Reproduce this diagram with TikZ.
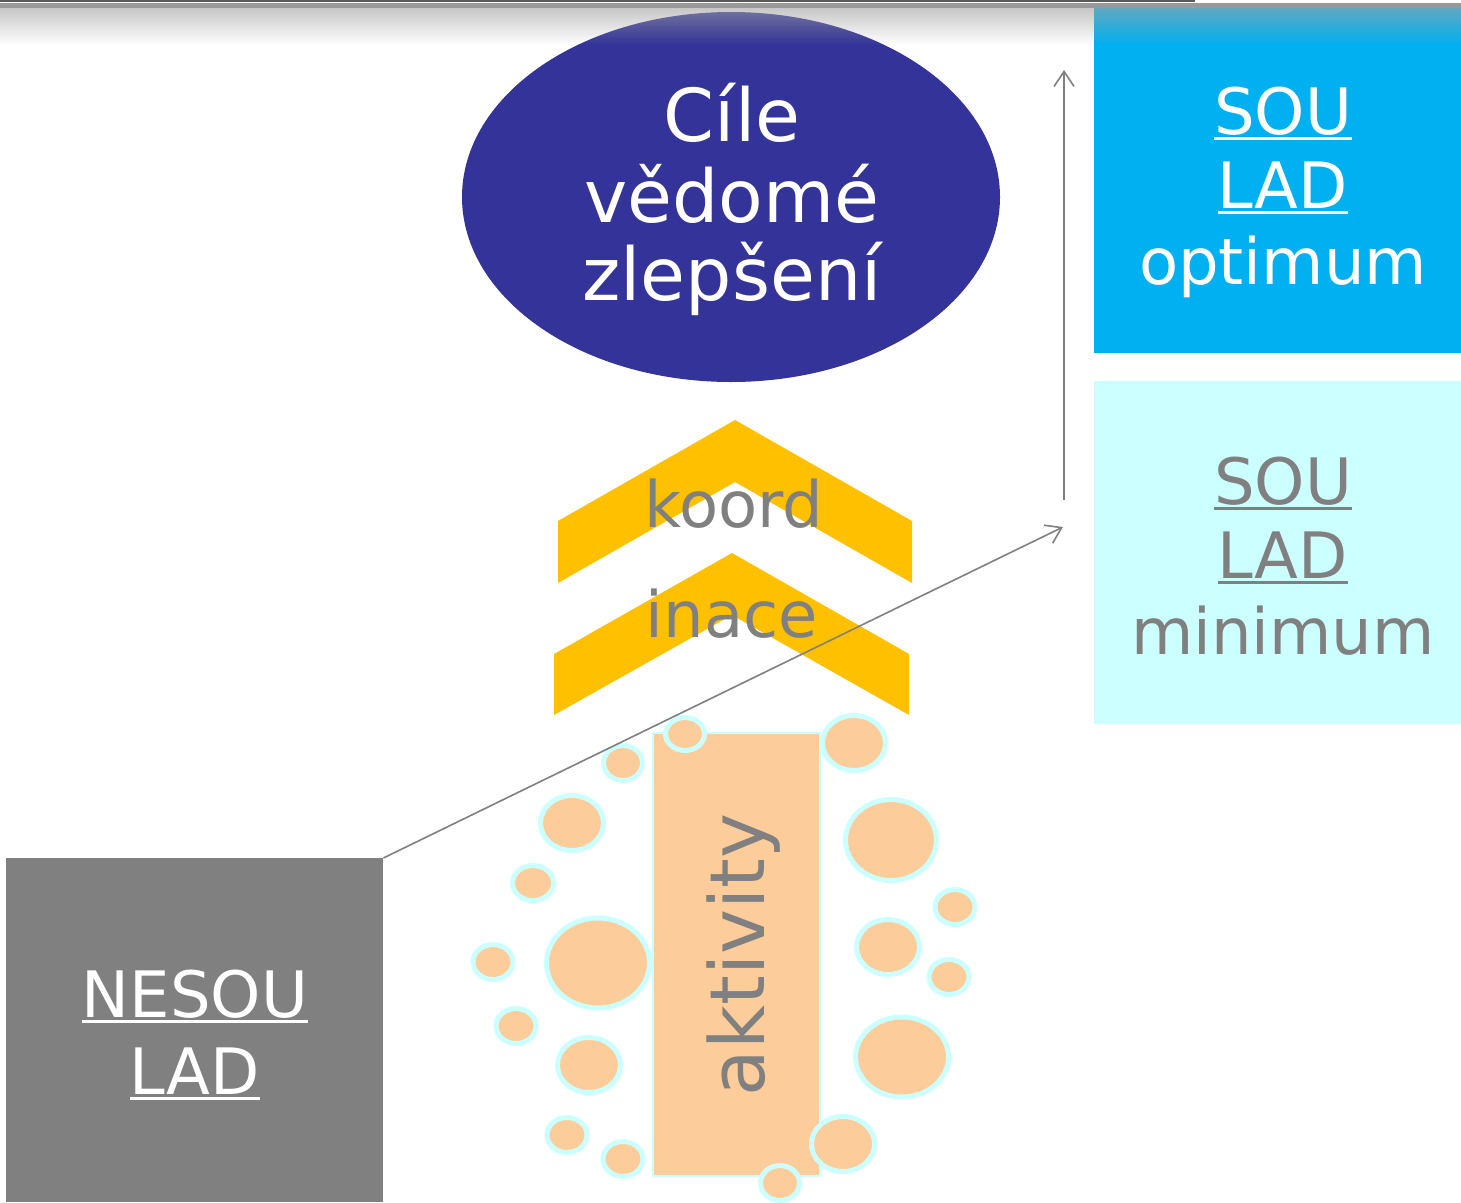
\documentclass[tikz,border=0pt]{standalone}
\usepackage{fontspec}
\setmainfont{DejaVu Sans}
\usetikzlibrary{shapes.geometric,arrows.meta}
\definecolor{ellblue}{HTML}{333399}
\definecolor{boxblue}{HTML}{00B0F0}
\definecolor{boxcyan}{HTML}{CCFFFF}
\definecolor{boxgray}{HTML}{808080}
\definecolor{txtgray}{HTML}{808080}
\definecolor{chevron}{HTML}{FFC000}
\definecolor{peach}{HTML}{FCCC9A}
\definecolor{ring}{HTML}{CCFFFF}
\definecolor{shadowgray}{HTML}{A3A3A3}
\definecolor{topdark}{HTML}{595959}
\definecolor{topband}{HTML}{999999}
\newcommand\ulword[1]{\setbox0\hbox{#1}\leavevmode\rlap{\rule[-6pt]{\wd0}{3pt}}\box0}
\tikzset{
  txt/.style={inner sep=0pt, anchor=base},
  bigtxt/.style={txt, font=\fontsize{73}{80}\selectfont},
  midtxt/.style={txt, font=\fontsize{64}{75}\selectfont},
  bubble/.style={fill=peach, draw=ring, line width=5pt},
  conn/.style={draw=txtgray, line width=1.6pt, -{Straight Barb[length=15pt,width=20pt,line width=1.6pt]}},
  chev/.style={fill=chevron}
}
\begin{document}
\begin{tikzpicture}[x=1pt,y=-1pt]
\useasboundingbox (0,0) rectangle (1461,1202);
\fill[white] (0,0) rectangle (1461,1202);
% top decoration
\fill[topdark] (0,0) rectangle (1195,1.5);
\fill[topband] (0,3.3) rectangle (1461,8.3);

% ellipse
\node[ellipse, fill=ellblue, inner sep=0pt, minimum width=538pt, minimum height=370pt] (goal) at (731,197) {};
\node[bigtxt, white] (g1) at (732,141) {Cíle};
\node[bigtxt, white] (g2) at (732,222) {vědomé};
\node[bigtxt, white] (g3) at (732,300) {zlepšení};

% right boxes
\node[rectangle, fill=boxblue, inner sep=0pt, minimum width=367pt, minimum height=345pt, anchor=north west] (opt) at (1094,8) {};
\node[midtxt, white] (o1) at (1283,134) {\ulword{SOU}};
\node[midtxt, white] (o2) at (1283,208) {\ulword{LAD}};
\node[midtxt, white] (o3) at (1283,284) {optimum};

\node[rectangle, fill=boxcyan, inner sep=0pt, minimum width=367pt, minimum height=343pt, anchor=north west] (min) at (1094,381) {};
\node[midtxt, txtgray] (m1) at (1283,504) {\ulword{SOU}};
\node[midtxt, txtgray] (m2) at (1283,578) {\ulword{LAD}};
\node[midtxt, txtgray] (m3) at (1283,654) {minimum};

% gray box
\node[rectangle, fill=boxgray, inner sep=0pt, minimum width=377pt, minimum height=344pt, anchor=north west] (nes) at (6,858) {};
\node[midtxt, white] (n1) at (195,1017) {\ulword{NESOU}};
\node[midtxt, white] (n2) at (195,1094) {\ulword{LAD}};

% chevrons
\fill[chev] (558,521) -- (735,420) -- (912,521) -- (912,583) -- (735,482) -- (558,583) -- cycle;
\fill[chev] (554,654) -- (732,553) -- (909,654) -- (909,715) -- (732,615) -- (554,715) -- cycle;
\node[midtxt, txtgray] (k1) at (734,527) {koord};
\node[midtxt, txtgray] (k2) at (732,637) {inace};

% activities
\node[rectangle, fill=peach, draw=ring, line width=1.5pt, inner sep=0pt, minimum width=167pt, minimum height=443pt] (act) at (736.5,954.5) {};
\node[txt, txtgray, rotate=90, font=\fontsize{76}{80}\selectfont] (actl) at (764,955) {aktivity};

\foreach \cx/\cy/\rx/\ry in {
  685/734/19.5/16.5, 623/763/19.5/17.5, 854/743/31.5/27.5, 572/823/31.5/27.5,
  533/883/20.5/17.5, 891/840/45.5/40.5, 955/907/20/17.5, 598/963/51.5/45,
  493/962/20/17.5, 888/947/31.5/27.5, 949/977/20/17.5, 516/1026/20/17.5,
  589/1065/31.5/27.5, 902/1057/46.5/40, 567/1135/20/17.5, 623/1159/20/17.5,
  843/1144/31.5/27.5, 780/1183/19.5/17.5}
  \draw[bubble] (\cx,\cy) ellipse [x radius=\rx, y radius=\ry];

% connectors
\coordinate (diagend) at (1063,527);
\coordinate (vstart) at (1064,500);
\coordinate (vend) at (1064,70);
\draw[conn] (nes.north east) -- (diagend);
\draw[conn] (vstart) -- (vend);

% top shadow
\foreach \i in {0,...,36}
  \fill[shadowgray, fill opacity={0.6*(1-\i/37)}] (0,8.3+\i) rectangle (1461,9.3+\i);
\end{tikzpicture}
\end{document}
